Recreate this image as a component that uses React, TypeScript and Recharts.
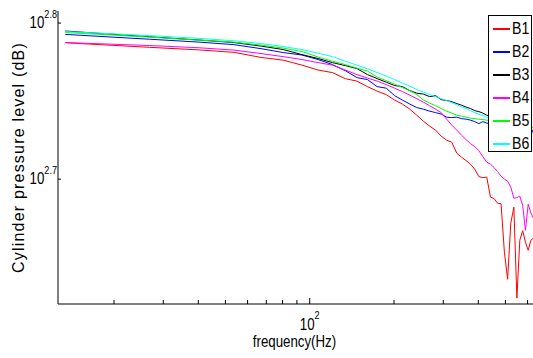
import React from "react"
import { LineChart, XAxis, YAxis, Line, Legend } from "recharts"

// frequency bins (Hz)
const freqHz = [13.4, 26.8, 40.2, 53.6, 67.0, 80.4, 93.8, 107.2, 120.6, 134.0, 147.4, 160.8, 174.2, 187.6, 201.0, 214.4,
    227.8, 241.2, 254.6, 268.0, 281.4, 294.8, 308.2, 321.6, 335.0, 348.4, 361.8, 375.2, 388.6, 402.0, 415.4, 428.8,
    442.2, 455.6, 469.0, 482.4, 495.8, 509.2, 522.6, 536.0, 549.4, 562.8, 576.2, 589.6, 603.0, 616.4, 629.8]

const b1 = [612.9, 608.8, 606.5, 604.3, 599.8, 597.4, 593.0, 588.7, 586.5, 581.3, 579.2, 574.5, 570.7, 567.8, 563.2, 559.9,
    555.7, 550.8, 546.0, 542.0, 538.8, 534.0, 530.9, 529.3, 520.8, 517.7, 515.1, 512.4, 508.6, 503.1, 502.3, 502.7,
    488.1, 487.0, 483.7, 483.4, 450.0, 432.4, 469.7, 480.9, 420.5, 458.0, 464.5, 456.7, 451.3, 458.0, 459.4]
const b2 = [620.5, 616.1, 613.5, 611.2, 607.6, 604.1, 601.9, 597.9, 593.5, 588.2, 582.2, 580.5, 574.5, 573.2, 566.9, 563.2,
    559.9, 557.0, 555.7, 554.1, 552.9, 551.7, 549.2, 548.8, 549.2, 548.0, 547.6, 546.8, 545.6, 544.0, 545.6, 544.4,
    544.0, 543.6, 542.8, 543.2, 542.4, 542.0, 541.6, 541.2, 540.8, 540.4, 540.0, 539.6, 539.2, 538.8, 538.4]
const b3 = [623.6, 618.3, 615.4, 613.1, 609.9, 606.8, 602.3, 598.8, 595.2, 592.6, 590.0, 584.8, 581.3, 578.3, 575.4, 574.5,
    571.1, 569.0, 568.2, 566.1, 566.9, 563.6, 562.8, 561.9, 560.3, 559.0, 557.4, 556.2, 554.5, 553.7, 552.5, 550.8,
    549.6, 548.4, 547.6, 546.4, 546.0, 544.8, 544.0, 542.8, 542.4, 541.2, 540.4, 539.6, 538.8, 538.0, 537.2]
const b4 = [613.1, 610.4, 608.4, 606.3, 603.2, 600.5, 597.9, 595.2, 593.0, 588.7, 584.8, 581.8, 579.2, 576.2, 573.2, 570.3,
    567.3, 564.4, 561.5, 558.6, 555.7, 552.9, 547.6, 542.8, 538.8, 534.8, 531.3, 528.2, 525.8, 522.7, 518.1, 513.9,
    512.4, 509.8, 506.8, 503.4, 501.2, 499.7, 495.3, 487.3, 487.7, 488.8, 482.3, 464.8, 483.0, 476.7, 473.2]
const b5 = [622.2, 618.1, 615.3, 613.5, 610.8, 608.1, 605.0, 600.1, 596.5, 593.5, 590.4, 587.8, 582.6, 579.6, 576.6, 573.7,
    571.1, 567.8, 563.2, 560.7, 558.6, 556.2, 554.1, 552.5, 550.8, 550.0, 549.2, 548.4, 548.0, 547.6, 547.2, 546.8,
    546.4, 546.0, 545.6, 545.2, 544.8, 544.4, 544.0, 543.6, 543.2, 542.8, 542.4, 542.0, 541.6, 541.2, 540.8]
const b6 = [623.1, 619.4, 616.9, 614.7, 612.2, 609.5, 606.8, 603.6, 600.5, 596.5, 593.0, 590.0, 586.5, 583.5, 580.5, 577.5,
    574.9, 572.0, 569.9, 567.8, 566.1, 564.4, 562.8, 561.1, 559.4, 557.8, 556.2, 554.5, 552.9, 551.7, 550.4, 549.2,
    548.4, 547.2, 546.0, 545.2, 544.0, 543.2, 542.4, 541.6, 540.8, 540.0, 539.2, 538.4, 537.6, 536.8, 536.0]

const seriesNames = ["B1", "B2", "B3", "B4", "B5", "B6"]
const seriesColors = ["#ff0000", "#0000ff", "#000000", "#ff00ff", "#00ff00", "#00ffff"]
const seriesValues = [b1, b2, b3, b4, b5, b6]

const xTicks = [20, 30, 40, 50, 60, 70, 80, 90, 100, 200, 300, 400, 500, 600]
const xMajor = [100]
const xMajorExp = ["2"]
const yTicks = [501.187, 630.957]
const yTickExp = ["2.7", "2.8"]

const rows = freqHz.map((f, i) => {
    const row: any = { freq: f }
    seriesNames.forEach((n, s) => { row[n] = seriesValues[s][i] })
    return row
})

const FONT = "'Liberation Sans', Arial, sans-serif"
const SQUEEZE = 0.83

function BottomTick(props: any) {
    const { x, y, payload } = props
    const idx = xMajor.indexOf(payload.value)
    const major = idx >= 0
    return (
        <g>
            <line x1={x} x2={x} y1={y} y2={y - (major ? 6 : 4)} stroke="#000" />
            {major && (
                <g transform={`translate(${x},${y + 26}) scale(${SQUEEZE},1)`}>
                    <text textAnchor="middle" fontFamily={FONT} fontSize={16} fill="#000">
                        10<tspan dy={-11} fontSize={11}>{xMajorExp[idx]}</tspan>
                    </text>
                </g>
            )}
        </g>
    )
}

function TopTick(props: any) {
    const { x, y, payload } = props
    const major = xMajor.indexOf(payload.value) >= 0
    return <line x1={x} x2={x} y1={y} y2={y + (major ? 6 : 4)} stroke="#000" />
}

function LeftTick(props: any) {
    const { x, y, index } = props
    return (
        <g>
            <line x1={x} x2={x + 3} y1={y} y2={y} stroke="#000" />
            <g transform={`translate(${x - 1},${y + 5}) scale(${SQUEEZE},1)`}>
                <text textAnchor="end" fontFamily={FONT} fontSize={16} fill="#000">
                    10<tspan dy={-10} fontSize={11}>{yTickExp[index]}</tspan>
                </text>
            </g>
        </g>
    )
}

function RightTick(props: any) {
    const { x, y } = props
    return <line x1={x} x2={x - 3} y1={y} y2={y} stroke="#000" />
}

function XLabel(props: any) {
    const vb = props.viewBox
    return (
        <g transform={`translate(${vb.x + vb.width / 2 - 2},${vb.y + 43}) scale(${SQUEEZE},1)`}>
            <text textAnchor="middle" fontFamily={FONT} fontSize={16} fill="#000">frequency(Hz)</text>
        </g>
    )
}

function YLabel(props: any) {
    const vb = props.viewBox
    return (
        <g transform={`translate(${vb.x + 23.5},${vb.y + vb.height / 2}) rotate(-90)`}>
            <text textAnchor="middle" fontFamily={FONT} fontSize={16} letterSpacing={1.2} fill="#000">
                Cylinder pressure level (dB)
            </text>
        </g>
    )
}

function LegendBox() {
    return (
        <div style={{ width: 44, height: 137, boxSizing: "border-box", border: "1.5px solid #000", background: "#fff", position: "relative" }}>
            {seriesNames.map((n, i) => (
                <div key={n} style={{ position: "absolute", left: 0, top: 13 + 23 * i - 10, height: 20, width: 40 }}>
                    <div style={{ position: "absolute", left: 4, top: 9, width: 17, height: 1.5, background: seriesColors[i] }} />
                    <div style={{ position: "absolute", left: 23, top: 0, fontFamily: FONT, fontSize: 17, lineHeight: "20px", color: "#000", transform: `scaleX(${SQUEEZE})`, transformOrigin: "left center" }}>
                        {n}
                    </div>
                </div>
            ))}
        </div>
    )
}

export default function App() {
    return (
        <div style={{ position: "fixed", left: 0, top: 0, width: 533, height: 358, overflow: "hidden", background: "#fff" }}>
            <LineChart width={535} height={358} data={rows} margin={{ top: 11, right: 0, bottom: 0, left: 0 }}>
                <XAxis dataKey="freq" type="number" scale="log" domain={[12.62, 637.7]} allowDataOverflow
                    ticks={xTicks} interval={0} tick={<BottomTick />} tickLine={false} tickSize={0} tickMargin={0}
                    axisLine={{ stroke: "#000" }} height={54} label={{ content: (p: any) => <XLabel {...p} /> }} />
                <XAxis xAxisId="top" orientation="top" dataKey="freq" type="number" scale="log" domain={[12.62, 637.7]} allowDataOverflow
                    ticks={xTicks} interval={0} tick={<TopTick />} tickLine={false} tickSize={0} tickMargin={0}
                    axisLine={{ stroke: "#000" }} height={0} />
                <YAxis type="number" scale="log" domain={[416.9, 642.3]} allowDataOverflow ticks={yTicks} interval={0}
                    tick={<LeftTick />} tickLine={false} tickSize={0} tickMargin={0} axisLine={{ stroke: "#000" }} width={58}
                    label={{ content: (p: any) => <YLabel {...p} /> }} />
                <YAxis yAxisId="right" orientation="right" type="number" scale="log" domain={[416.9, 642.3]} allowDataOverflow
                    ticks={yTicks} interval={0} tick={<RightTick />} tickLine={false} tickSize={0} tickMargin={0}
                    axisLine={{ stroke: "#000" }} width={0} />
                {seriesNames.map((n, i) => (
                    <Line key={n} dataKey={n} name={n} stroke={seriesColors[i]} strokeWidth={1} dot={false}
                        type="linear" isAnimationActive={false} />
                ))}
                <Legend layout="horizontal" align="center" verticalAlign="middle" content={() => <LegendBox />}
                    wrapperStyle={{ position: "absolute", left: 488, top: 15, width: 44, height: 137 }} />
            </LineChart>
        </div>
    )
}
